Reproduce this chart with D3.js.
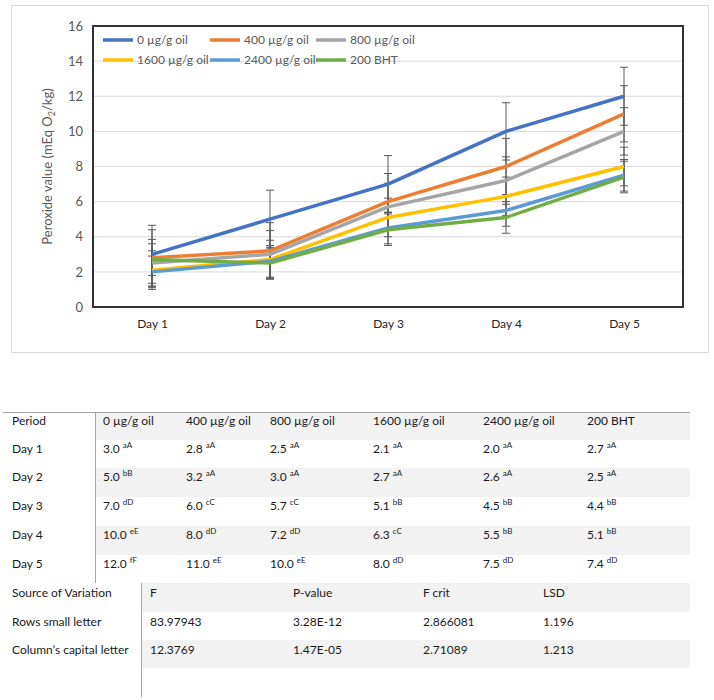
<!DOCTYPE html>
<html>
<head>
<meta charset="utf-8">
<script src="https://cdn.jsdelivr.net/npm/d3@7"></script>
<style>
	body { margin: 0; background: #fff; }
	svg text { font-family: Lato, "Open Sans", sans-serif; }
	.tick text { fill: #595959; font-size: 13px; }
	.grid line { stroke: #d9d9d9; }
	.legend text { fill: #595959; font-size: 12px; }
	.tbl text { fill: #1a1a1a; font-size: 12px; }
</style>
</head>
<body>
<svg width="714" height="700"></svg>
<script>
// Data
const days = ["Day 1", "Day 2", "Day 3", "Day 4", "Day 5"];
const treatments = ["0 µg/g oil", "400 µg/g oil", "800 µg/g oil", "1600 µg/g oil", "2400 µg/g oil", "200 BHT"];
const colors = ["#4472C4", "#ED7D31", "#A5A5A5", "#FFC000", "#5B9BD5", "#70AD47"];
const values = [
	[3.0, 5.0, 7.0, 10.0, 12.0],
	[2.8, 3.2, 6.0, 8.0, 11.0],
	[2.5, 3.0, 5.7, 7.2, 10.0],
	[2.1, 2.7, 5.1, 6.3, 8.0],
	[2.0, 2.6, 4.5, 5.5, 7.5],
	[2.7, 2.5, 4.4, 5.1, 7.4]
];
const errors = [
	[1.65, 1.65, 1.62, 1.63, 1.65],
	[1.6, 1.6, 1.6, 1.6, 1.6],
	[1.35, 1.35, 1.35, 1.35, 1.35],
	[1.1, 1.1, 1.1, 1.1, 1.1],
	[0.9, 0.9, 0.9, 0.9, 0.9],
	[0.9, 0.9, 0.9, 0.9, 0.9]
];
// significance letters, rows = days, cols = treatments
const letters = [
	["aA", "aA", "aA", "aA", "aA", "aA"],
	["bB", "aA", "aA", "aA", "aA", "aA"],
	["dD", "cC", "cC", "bB", "bB", "bB"],
	["eE", "dD", "dD", "cC", "bB", "bB"],
	["fF", "eE", "eE", "dD", "dD", "dD"]
];
const anovaHeader = ["Source of Variation", "F", "P-value", "F crit", "LSD"];
const anovaRows = [
	["Rows small letter", "83.97943", "3.28E-12", "2.866081", "1.196"],
	["Column’s capital letter", "12.3769", "1.47E-05", "2.71089", "1.213"]
];

const svg = d3.select("svg");

// ---- chart ----
const plot = { left: 93, right: 683, top: 26, bottom: 307 };

svg.append("rect")
	.attr("x", 11.5).attr("y", 5.5)
	.attr("width", 697).attr("height", 347)
	.attr("fill", "#fff")
	.attr("stroke", "#d9d9d9");

const x = d3.scalePoint()
	.domain(days)
	.range([plot.left, plot.right])
	.padding(0.5);

const y = d3.scaleLinear()
	.domain([0, 16])
	.range([plot.bottom, plot.top]);

svg.append("g")
	.attr("class", "grid")
	.selectAll("line")
	.data(y.ticks(8).filter(function(d) { return d > 0 && d < 16; }))
	.enter().append("line")
	.attr("x1", plot.left).attr("x2", plot.right)
	.attr("y1", function(d) { return y(d); })
	.attr("y2", function(d) { return y(d); });

const yAxis = svg.append("g")
	.attr("transform", "translate(" + (plot.left - 6) + ",0)")
	.call(d3.axisLeft(y).ticks(8).tickSize(0).tickPadding(4));
yAxis.select(".domain").remove();

const xAxis = svg.append("g")
	.attr("transform", "translate(0," + plot.bottom + ")")
	.call(d3.axisBottom(x).tickSize(0).tickPadding(12));
xAxis.select(".domain").remove();
xAxis.selectAll("text").style("fill", "#262626").style("font-size", "12px");

svg.append("text")
	.attr("transform", "translate(52," + ((plot.top + plot.bottom) / 2) + ") rotate(-90)")
	.attr("text-anchor", "middle")
	.style("fill", "#595959")
	.style("font-size", "13px")
	.html("Peroxide value (mEq O<tspan font-size='9' dy='3'>2</tspan><tspan dy='-3'>/kg)</tspan>");

const line = d3.line()
	.x(function(d, i) { return x(days[i]); })
	.y(function(d) { return y(d); });

// error bars
treatments.forEach(function(t, s) {
	const g = svg.append("g").attr("class", "err");
	g.selectAll("path")
		.data(values[s])
		.enter().append("path")
		.attr("d", function(d, i) {
			const cx = x(days[i]), hi = y(d + errors[s][i]), lo = y(d - errors[s][i]);
			return "M" + cx + "," + hi + "V" + lo +
				"M" + (cx - 4) + "," + hi + "H" + (cx + 4) +
				"M" + (cx - 4) + "," + lo + "H" + (cx + 4);
		})
		.attr("fill", "none")
		.attr("stroke", "#595959")
		.attr("stroke-width", 1);
});

// lines
svg.append("g")
	.selectAll("path")
	.data(values)
	.enter().append("path")
	.attr("d", line)
	.attr("fill", "none")
	.attr("stroke", function(d, i) { return colors[i]; })
	.attr("stroke-width", 3.5)
	.attr("stroke-linejoin", "round");

svg.append("rect")
	.attr("x", plot.left).attr("y", plot.top)
	.attr("width", plot.right - plot.left)
	.attr("height", plot.bottom - plot.top)
	.attr("fill", "none")
	.attr("stroke", "#333")
	.attr("stroke-width", 2);

// legend
const legend = svg.append("g").attr("class", "legend");
const legX = [103, 210, 316];
treatments.forEach(function(t, i) {
	const lx = legX[i % 3], ly = 40 + Math.floor(i / 3) * 20;
	legend.append("line")
		.attr("x1", lx).attr("x2", lx + 30)
		.attr("y1", ly).attr("y2", ly)
		.attr("stroke", colors[i])
		.attr("stroke-width", 3.5);
	legend.append("text")
		.attr("x", lx + 34).attr("y", ly)
		.attr("dy", "0.35em")
		.text(t);
});

// ---- table 1 ----
const tbl = svg.append("g").attr("class", "tbl");
const rowTops = [412, 440, 468, 497, 526, 555, 583];
const colX = [12, 103, 186, 270, 373, 483, 587];
const tableRight = 690;

rowTops.slice(0, 6).forEach(function(top, r) {
	if (r % 2 === 0) {
		tbl.append("rect")
			.attr("x", 95).attr("y", top)
			.attr("width", tableRight - 95)
			.attr("height", rowTops[r + 1] - top)
			.attr("fill", "#f2f2f2");
	}
});

tbl.append("line")
	.attr("x1", 3).attr("x2", tableRight)
	.attr("y1", 412.5).attr("y2", 412.5)
	.attr("stroke", "#a6a6a6");
tbl.append("line")
	.attr("x1", 95.5).attr("x2", 95.5)
	.attr("y1", 412).attr("y2", 583)
	.attr("stroke", "#a6a6a6");

const header = ["Period"].concat(treatments);
tbl.selectAll(".hdr")
	.data(header)
	.enter().append("text")
	.attr("x", function(d, i) { return colX[i]; })
	.attr("y", rowTops[0] + 13)
	.text(function(d) { return d; });

days.forEach(function(day, r) {
	const ty = rowTops[r + 1] + 13;
	tbl.append("text").attr("x", colX[0]).attr("y", ty).text(day);
	treatments.forEach(function(t, c) {
		const cell = tbl.append("text").attr("x", colX[c + 1]).attr("y", ty);
		cell.append("tspan").text(values[c][r].toFixed(1) + " ");
		cell.append("tspan")
			.attr("font-size", "8px")
			.attr("dy", -5)
			.text(letters[r][c]);
	});
});

// ---- table 2 ----
const rowTops2 = [583, 612, 640, 668, 697];
const colX2 = [12, 150, 293, 423, 543];

rowTops2.slice(0, 3).forEach(function(top, r) {
	if (r % 2 === 0) {
		tbl.append("rect")
			.attr("x", 141).attr("y", top)
			.attr("width", tableRight - 141)
			.attr("height", rowTops2[r + 1] - top)
			.attr("fill", "#f2f2f2");
	}
});
tbl.append("line")
	.attr("x1", 141.5).attr("x2", 141.5)
	.attr("y1", 583).attr("y2", 697)
	.attr("stroke", "#a6a6a6");

[anovaHeader].concat(anovaRows).forEach(function(row, r) {
	tbl.selectAll(".r" + r)
		.data(row)
		.enter().append("text")
		.attr("x", function(d, i) { return colX2[i]; })
		.attr("y", rowTops2[r] + 14)
		.text(function(d) { return d; });
});
</script>
</body>
</html>
